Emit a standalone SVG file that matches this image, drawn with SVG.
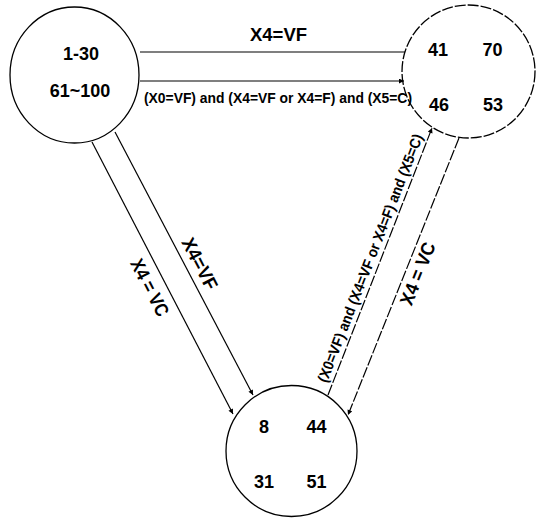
<svg xmlns="http://www.w3.org/2000/svg" width="540" height="518" viewBox="0 0 540 518">
<style>
.node{fill:none;stroke:#000;stroke-width:1.3}
.dash{stroke-dasharray:11 2}
.conn{fill:none;stroke:#000;stroke-width:1.2}
.num{font-family:"Liberation Sans",Arial,sans-serif;font-weight:bold;font-size:18px;text-anchor:middle;fill:#000}
.lbl{font-family:"Liberation Sans",Arial,sans-serif;font-weight:bold;font-size:19px;text-anchor:middle;fill:#000}
.sm{font-family:"Liberation Sans",Arial,sans-serif;font-weight:bold;font-size:15px;text-anchor:middle;fill:#000}
.smh{font-size:14px}
</style>
<defs>
<marker id="arr" viewBox="0 0 10 10" refX="10" refY="5" markerWidth="6" markerHeight="5" markerUnits="userSpaceOnUse" orient="auto">
<path d="M0,0 L10,5 L0,10 z" fill="#000"/>
</marker>
</defs>
<rect width="540" height="518" fill="#fff"/>
<g id="node-left">
<ellipse class="node" cx="74.5" cy="75" rx="64.5" ry="68"/>
<text class="num" x="81" y="60">1-30</text>
<text class="num" x="80" y="97">61~100</text>
</g>
<g id="node-right">
<circle class="node dash" cx="468.5" cy="71.5" r="66.5"/>
<text class="num" x="438" y="56">41</text>
<text class="num" x="492.5" y="56">70</text>
<text class="num" x="439" y="111">46</text>
<text class="num" x="493" y="111">53</text>
</g>
<g id="node-bottom">
<circle class="node" cx="291.5" cy="451" r="65.5"/>
<text class="num" x="264" y="433">8</text>
<text class="num" x="316.5" y="433">44</text>
<text class="num" x="264" y="488">31</text>
<text class="num" x="316.5" y="488">51</text>
</g>
<g id="connectors">
<line class="conn" x1="140" y1="52" x2="405" y2="52"/>
<line class="conn" x1="140" y1="81" x2="404" y2="81" marker-end="url(#arr)"/>
<line class="conn" x1="115" y1="132" x2="253" y2="395" marker-end="url(#arr)"/>
<line class="conn" x1="92" y1="142" x2="233" y2="414" marker-end="url(#arr)"/>
<line class="conn dash" x1="328" y1="395" x2="432" y2="128" marker-end="url(#arr)"/>
<line class="conn dash" x1="459" y1="138" x2="348" y2="415" marker-end="url(#arr)"/>
<text class="lbl" x="278.5" y="41" textLength="57" lengthAdjust="spacingAndGlyphs">X4=VF</text>
<text class="sm smh" x="278" y="103" textLength="268" lengthAdjust="spacingAndGlyphs">(X0=VF) and (X4=VF or X4=F) and (X5=C)</text>
<text class="lbl" transform="translate(194,266.7) rotate(62.3)" x="0" y="0" textLength="56" lengthAdjust="spacingAndGlyphs">X4=VF</text>
<text class="lbl" transform="translate(144,290.6) rotate(62.5)" x="0" y="0" textLength="62" lengthAdjust="spacingAndGlyphs">X4 = VC</text>
<text class="lbl" transform="translate(423.8,276) rotate(-68.2)" x="0" y="0" textLength="66" lengthAdjust="spacingAndGlyphs">X4 = VC</text>
<text class="sm" transform="translate(375,260) rotate(-68.7)" x="0" y="0" textLength="265" lengthAdjust="spacingAndGlyphs">(X0=VF) and (X4=VF or X4=F) and (X5=C)</text>
</g>
</svg>
